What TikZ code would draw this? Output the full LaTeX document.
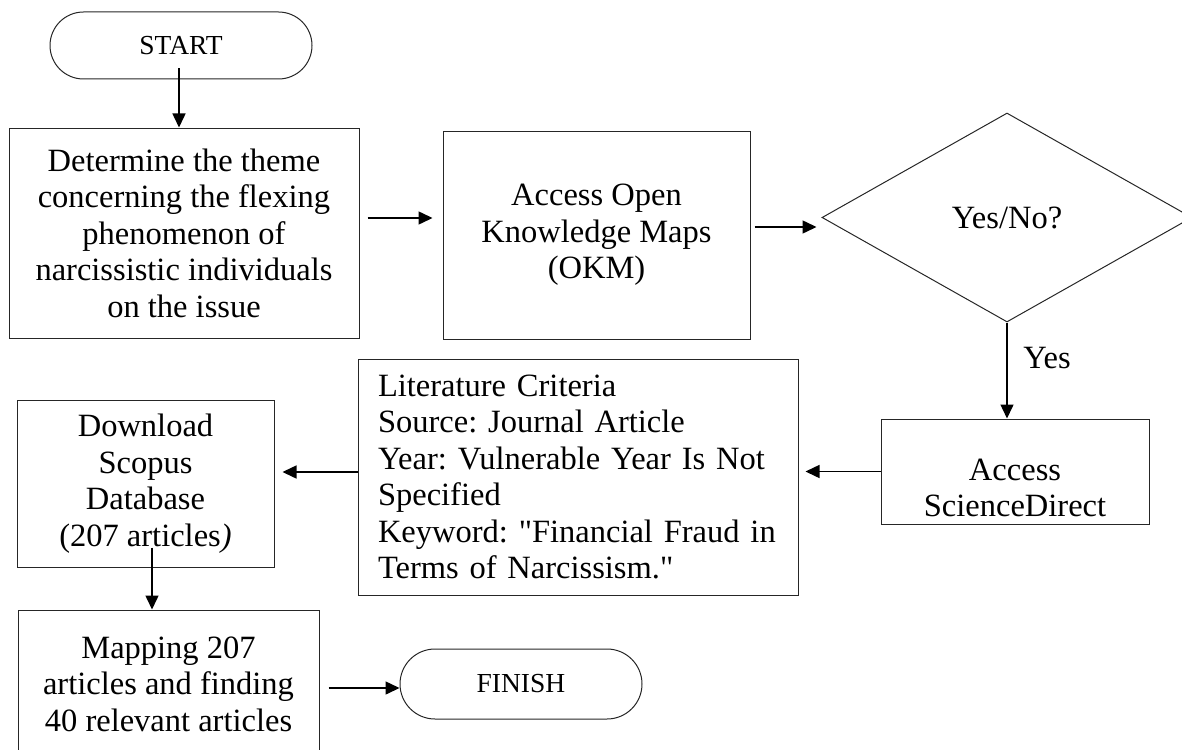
\documentclass[tikz,border=0pt]{standalone}
\usepackage{fontspec}
\setmainfont{Liberation Serif}[Ligatures=TeXOff]
\usetikzlibrary{shapes.geometric,shapes.misc,arrows.meta}
\frenchspacing
\tikzset{
  body/.style={font=\fontsize{32.5}{36.5}\selectfont},
  box/.style={body, draw=black!85, line width=1pt, rectangle, inner sep=0pt, align=center},
  term/.style={draw=black!85, line width=1pt, rounded rectangle, inner sep=0pt, font=\fontsize{27.5}{30}\selectfont},
  arr/.style={line width=1.5pt, -{Triangle[length=14pt,width=13pt]}},
}
\begin{document}
\begin{tikzpicture}[x=1pt,y=-1pt]
\useasboundingbox (0,0) rectangle (1182,749);
\node[term, minimum width=262pt, minimum height=67pt] (start) at (181,45.5) {START};
\node[box, minimum width=350pt, minimum height=210pt] (box1) at (184,233)
  {Determine the theme\\concerning the flexing\\phenomenon of\\narcissistic individuals\\on the issue};
\node[box, minimum width=307pt, minimum height=208pt] (box2) at (596.5,235)
  {Access Open\\Knowledge Maps\\(OKM)};
\node[body, draw=black!85, line width=1pt, diamond, inner sep=0pt, minimum width=370pt, minimum height=209pt] (dec) at (1007,217.5) {Yes/No?};
\node[box, minimum width=268pt, minimum height=105pt] (sd) at (1015,471.5) {};
\node[body, align=center] (sdt) at (1015,488) {Access\\ScienceDirect};
\node[box, minimum width=440pt, minimum height=236pt, text width=400pt, align=left, inner xsep=20pt] (lit) at (578,477)
  {Literature Criteria\\Source: Journal Article\\Year: Vulnerable Year Is Not\\Specified\\Keyword: "Financial Fraud in\\Terms of Narcissism."};
\node[box, minimum width=257pt, minimum height=167pt] (dl) at (145.5,483.5)
  {Download\\Scopus\\Database\\(207 articles\textit{)}};
\node[box, minimum width=301pt, minimum height=148pt] (map) at (168.5,684)
  {Mapping 207\\articles and finding\\40 relevant articles};
\node[term, minimum width=242pt, minimum height=70pt] (fin) at (521,684) {FINISH};
\node[body] (yes) at (1047,358) {Yes};
\coordinate (s1) at ([xshift=-2pt,yshift=11pt]start.south);
\coordinate (b1) at ([xshift=8pt,yshift=15pt]box1.east);
\coordinate (b2) at ([xshift=4pt,yshift=8pt]box2.east);
\coordinate (l1) at ([yshift=5pt]lit.west);
\coordinate (d1) at ([xshift=6.5pt,yshift=20pt]dl.south);
\coordinate (m1) at ([xshift=9pt,yshift=-4pt]map.east);
\draw[arr] (s1) -- (s1 |- box1.north);
\draw[arr, shorten >=10pt] (b1) -- (b1 -| box2.west);
\draw[arr, shorten >=5pt] (b2) -- (b2 -| dec.west);
\draw[arr] (dec.south) -- (dec.south |- sd.north);
\draw[arr, shorten >=7pt] (sd.west) -- (sd.west -| lit.east);
\draw[arr, shorten >=8pt] (l1) -- (l1 -| dl.east);
\draw[arr] (d1) -- (d1 |- map.north);
\draw[arr] (m1) -- (m1 -| fin.west);
\end{tikzpicture}
\end{document}
